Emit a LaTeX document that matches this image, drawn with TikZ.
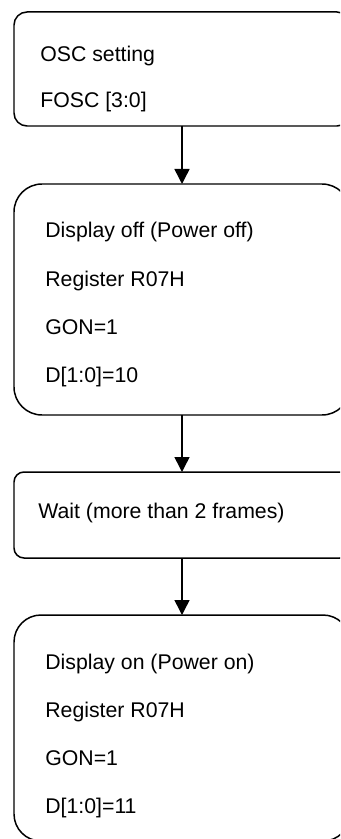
\documentclass[tikz,border=0pt]{standalone}
\usepackage{fontspec}
\setmainfont{Liberation Sans}
\usepackage{tikz}
\usetikzlibrary{positioning, arrows.meta}
\usepackage{xcolor}
\definecolor{lcdline}{HTML}{000000}
\definecolor{lcdtext}{HTML}{000000}

\begin{document}
\begin{tikzpicture}[
    stepbox/.style={draw=lcdline, line width=0.85pt, fill=white, outer sep=0pt,
                    inner sep=0pt, minimum width=6.72cm},
    steptext/.style={text=lcdtext, anchor=base west, inner sep=0pt,
                     font=\fontsize{12.1}{14}\selectfont},
    flow/.style={-{Triangle[length=0.3cm, width=0.3cm]}, line width=0.85pt, color=lcdline}
  ]
    \useasboundingbox (0,0) rectangle (6.8,-16.78);
    \clip (0,0) rectangle (6.8,-16.78);
    % OSC
    \node[stepbox, rounded corners=0.26cm, minimum height=2.28cm] (osc) at (3.64,-1.38) {};
    \node[steptext] (osc1) at (0.80,-1.24) {OSC setting};
    \node[steptext] (osc2) at (0.80,-2.16) {FOSC [3:0]};
    % DISPLAY OFF
    \node[stepbox, rounded corners=0.56cm, minimum height=4.62cm] (off) at (3.64,-5.99) {};
    \node[steptext] (off1) at (0.90,-4.76) {Display off (Power off)};
    \node[steptext] (off2) at (0.90,-5.72) {Register R07H};
    \node[steptext] (off3) at (0.90,-6.68) {GON=1};
    \node[steptext] (off4) at (0.90,-7.64) {D[1:0]=10};
    % WAIT
    \node[stepbox, rounded corners=0.2cm, minimum height=1.72cm] (wait) at (3.64,-10.30) {};
    \node[steptext] (wait1) at (0.76,-10.36) {Wait (more than 2 frames)};
    % DISPLAY ON
    \node[stepbox, rounded corners=0.54cm, minimum height=4.52cm] (on) at (3.64,-14.56) {};
    \node[steptext] (on1) at (0.90,-13.38) {Display on (Power on)};
    \node[steptext] (on2) at (0.90,-14.34) {Register R07H};
    \node[steptext] (on3) at (0.90,-15.30) {GON=1};
    \node[steptext] (on4) at (0.90,-16.26) {D[1:0]=11};
    \draw[flow] (osc) -- (off);
    \draw[flow] (off) -- (wait);
    \draw[flow] (wait) -- (on);
  \end{tikzpicture}
\end{document}
